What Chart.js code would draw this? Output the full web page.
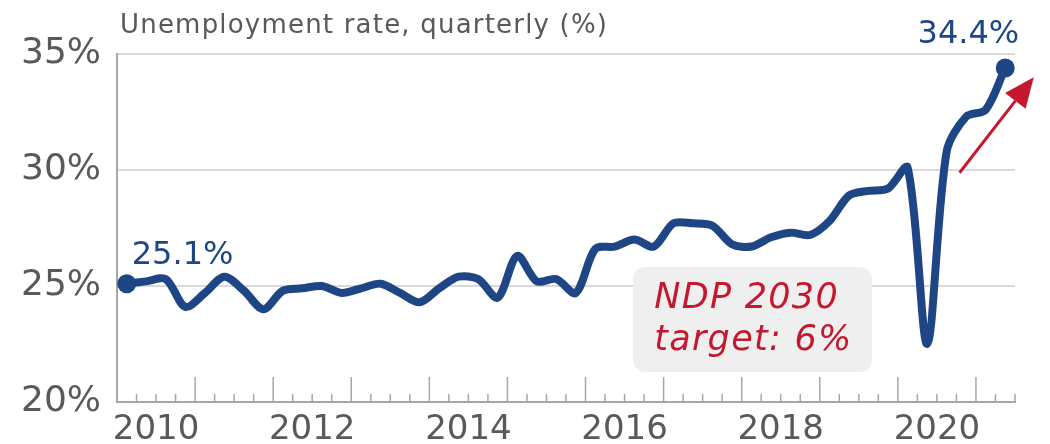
<!DOCTYPE html>
<html>
<head>
<meta charset="utf-8">
<title>Unemployment rate, quarterly</title>
<script src="https://cdn.jsdelivr.net/npm/chart.js@4.4.1/dist/chart.umd.min.js"></script>
<style>
  html, body { margin: 0; padding: 0; background: #fff; }
  #mycanvas { display: block; }
</style>
</head>
<body>
<canvas id="mycanvas" width="1050" height="444"></canvas>
<script>
// quarterly unemployment rate (%)
var quarters = [
  '2010Q1','2010Q2','2010Q3','2010Q4',
  '2011Q1','2011Q2','2011Q3','2011Q4',
  '2012Q1','2012Q2','2012Q3','2012Q4',
  '2013Q1','2013Q2','2013Q3','2013Q4',
  '2014Q1','2014Q2','2014Q3','2014Q4',
  '2015Q1','2015Q2','2015Q3','2015Q4',
  '2016Q1','2016Q2','2016Q3','2016Q4',
  '2017Q1','2017Q2','2017Q3','2017Q4',
  '2018Q1','2018Q2','2018Q3','2018Q4',
  '2019Q1','2019Q2','2019Q3','2019Q4',
  '2020Q1','2020Q2','2020Q3','2020Q4',
  '2021Q1','2021Q2'
];
var rates = [
  25.1, 25.2, 25.3, 24.1,
  24.7, 25.4, 24.8, 24.0,
  24.8, 24.9, 25.0, 24.7,
  24.9, 25.1, 24.7, 24.3,
  24.9, 25.4, 25.3, 24.5,
  26.3, 25.2, 25.3, 24.7,
  26.6, 26.7, 27.0, 26.7,
  27.7, 27.7, 27.6, 26.8,
  26.7, 27.1, 27.3, 27.2,
  27.8, 28.9, 29.1, 29.2,
  30.1, 22.5, 30.8, 32.3,
  32.6, 34.4
];
var yearLabels = [2010, 2012, 2014, 2016, 2018, 2020];
var yTicks = [20, 25, 30, 35];
var titleText = 'Unemployment rate, quarterly (%)';
var boxLines = ['NDP 2030', 'target: 6%'];

var FONT = '"DejaVu Sans", Verdana, sans-serif';
var BLUE = '#1f4684';
var GREY = '#595959';
var RED = '#c5172e';

// quarter -> position on a year axis (middle of the quarter)
function quarterPos(q) {
  var y = parseInt(q.slice(0, 4), 10);
  var n = parseInt(q.slice(5), 10);
  return y + (n - 0.5) / 4;
}

var points = [];
for (var i in quarters) {
  points.push({ x: quarterPos(quarters[i]), y: rates[i] });
}
var radii = rates.map(function (v, i) {
  return (i === 0 || i === rates.length - 1) ? 9.5 : 0;
});

// year / quarter tick marks drawn up from the axis
var axisTicks = {
  id: 'axisTicks',
  beforeDatasetsDraw: function (chart) {
    var ctx = chart.ctx, xs = chart.scales.x, bottom = chart.chartArea.bottom;
    ctx.save();
    ctx.strokeStyle = '#a6a6a6';
    ctx.lineWidth = 1.5;
    for (var q = xs.min * 4 + 1; q <= xs.max * 4; q++) {
      var px = xs.getPixelForValue(q / 4);
      var len = (q % 4 === 0) ? 25 : 8;
      ctx.beginPath();
      ctx.moveTo(px, bottom);
      ctx.lineTo(px, bottom - len);
      ctx.stroke();
    }
    ctx.restore();
  }
};

var notes = {
  id: 'notes',
  afterDraw: function (chart) {
    var ctx = chart.ctx, xs = chart.scales.x, ys = chart.scales.y;
    var meta = chart.getDatasetMeta(0).data;
    var first = meta[0], last = meta[meta.length - 1];
    ctx.save();

    // title
    ctx.fillStyle = GREY;
    ctx.font = '26px ' + FONT;
    ctx.letterSpacing = '1.2px';
    ctx.textAlign = 'left';
    ctx.textBaseline = 'alphabetic';
    ctx.fillText(titleText, chart.chartArea.left + 3, 33);
    ctx.letterSpacing = '0px';

    // end labels
    ctx.fillStyle = BLUE;
    ctx.font = '32px ' + FONT;
    ctx.fillText(rates[0].toFixed(1) + '%', first.x + 5, first.y - 20);
    ctx.textAlign = 'right';
    ctx.fillText(rates[rates.length - 1].toFixed(1) + '%', last.x + 14, last.y - 25);

    // target box
    var bx0 = xs.getPixelForValue(2016.61), bx1 = xs.getPixelForValue(2019.67);
    var by0 = ys.getPixelForValue(25.82), by1 = ys.getPixelForValue(21.29);
    ctx.fillStyle = '#efefef';
    ctx.beginPath();
    ctx.roundRect(bx0, by0, bx1 - bx0, by1 - by0, 12);
    ctx.fill();
    ctx.fillStyle = RED;
    ctx.font = 'italic 35px ' + FONT;
    ctx.letterSpacing = '1.3px';
    ctx.textAlign = 'left';
    ctx.fillText(boxLines[0], bx0 + 21, by0 + 41);
    ctx.fillText(boxLines[1], bx0 + 21, by0 + 83);
    ctx.letterSpacing = '0px';

    // arrow
    var ax0 = xs.getPixelForValue(2020.79), ay0 = ys.getPixelForValue(29.88);
    var ax1 = xs.getPixelForValue(2021.74), ay1 = ys.getPixelForValue(34.0);
    var ang = Math.atan2(ay1 - ay0, ax1 - ax0);
    var headLen = 30, headW = 13;
    var hx = ax1 - headLen * Math.cos(ang), hy = ay1 - headLen * Math.sin(ang);
    ctx.strokeStyle = RED;
    ctx.lineWidth = 3;
    ctx.beginPath();
    ctx.moveTo(ax0, ay0);
    ctx.lineTo(hx, hy);
    ctx.stroke();
    ctx.fillStyle = RED;
    ctx.beginPath();
    ctx.moveTo(ax1, ay1);
    ctx.lineTo(hx + headW * Math.sin(ang), hy - headW * Math.cos(ang));
    ctx.lineTo(hx - headW * Math.sin(ang), hy + headW * Math.cos(ang));
    ctx.closePath();
    ctx.fill();

    ctx.restore();
  }
};

var ctx = document.getElementById('mycanvas');
var lineChart = new Chart(ctx, {
  type: 'line',
  data: {
    datasets: [{
      label: 'Unemployment rate',
      data: points,
      borderColor: BLUE,
      backgroundColor: BLUE,
      borderWidth: 8,
      borderCapStyle: 'round',
      borderJoinStyle: 'round',
      tension: 0.3,
      pointRadius: radii,
      pointHoverRadius: radii,
      pointBorderWidth: 0,
      fill: false
    }]
  },
  options: {
    responsive: false,
    animation: false,
    devicePixelRatio: 1,
    layout: { padding: { top: 54, right: 35, left: 0, bottom: 0 } },
    plugins: {
      legend: { display: false },
      tooltip: { enabled: false }
    },
    scales: {
      x: {
        type: 'linear',
        min: 2010,
        max: 2021.5,
        afterFit: function (s) { s.height = 42; },
        afterBuildTicks: function (s) {
          s.ticks = yearLabels.map(function (y) { return { value: y + 0.5 }; });
        },
        grid: { display: false, drawTicks: false },
        border: { display: true, color: '#a6a6a6', width: 2 },
        ticks: {
          autoSkip: false,
          maxRotation: 0,
          padding: 8,
          color: GREY,
          font: { family: FONT, size: 34 },
          callback: function (v) { return Math.floor(v); }
        }
      },
      y: {
        min: 20,
        max: 35,
        afterFit: function (s) { s.width = 117; },
        afterBuildTicks: function (s) {
          s.ticks = yTicks.map(function (v) { return { value: v }; });
        },
        grid: {
          drawTicks: false,
          lineWidth: 2,
          color: function (c) { return c.tick && c.tick.value === 20 ? 'rgba(0,0,0,0)' : '#d9d9d9'; }
        },
        border: { display: true, color: '#a6a6a6', width: 2 },
        ticks: {
          padding: 16,
          color: GREY,
          font: { family: FONT, size: 36 },
          callback: function (v) { return v + '%'; }
        }
      }
    }
  },
  plugins: [axisTicks, notes]
});
</script>
</body>
</html>
